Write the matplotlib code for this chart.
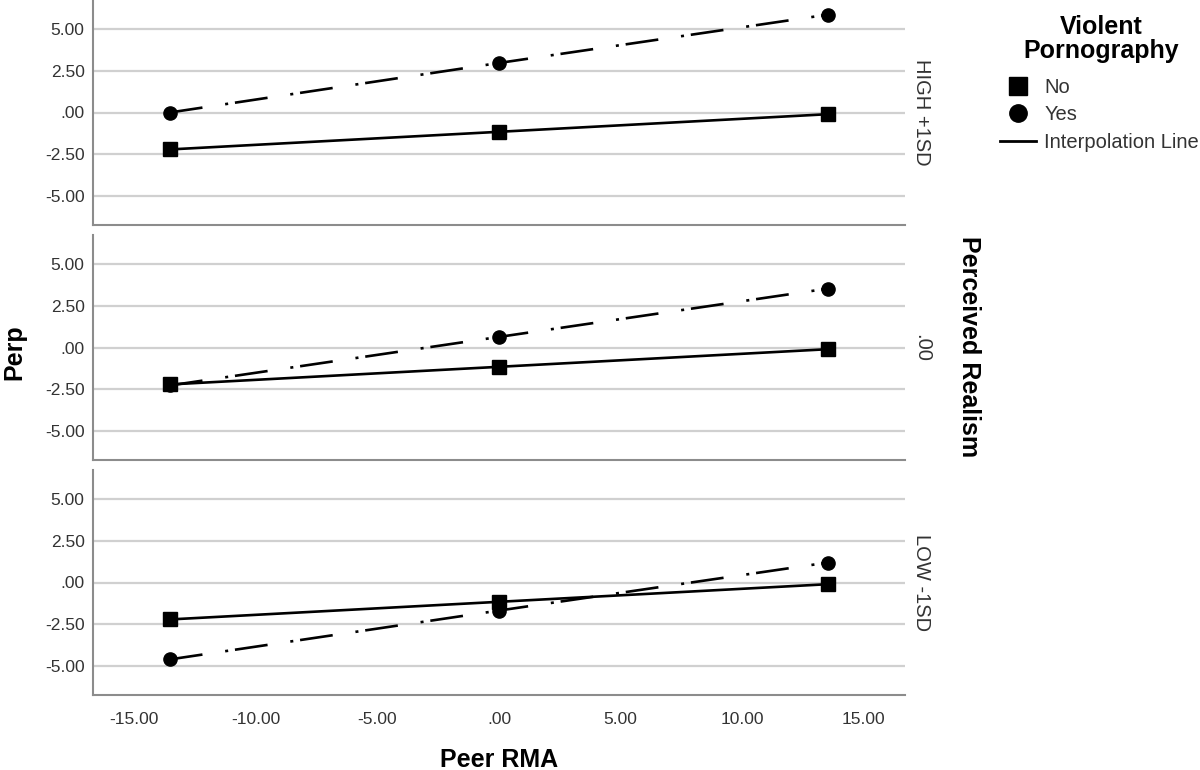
import matplotlib
matplotlib.use("Agg")
import matplotlib.pyplot as plt
from matplotlib.lines import Line2D

plt.rcParams['font.family'] = ['Liberation Sans', 'DejaVu Sans']

# ---- data ----
peer_rma = [-13.54, 0.0, 13.54]
panel_labels = ["HIGH +1SD", ".00", "LOW -1SD"]
perp_no = [
    [-2.20, -1.15, -0.10],
    [-2.20, -1.15, -0.10],
    [-2.20, -1.15, -0.10],
]
perp_yes = [
    [0.00, 2.95, 5.83],
    [-2.26, 0.63, 3.51],
    [-4.58, -1.67, 1.19],
]
x_ticks = [-15, -10, -5, 0, 5, 10, 15]
x_ticklabels = ["-15.00", "-10.00", "-5.00", ".00", "5.00", "10.00", "15.00"]
y_ticks = [5, 2.5, 0, -2.5, -5]
y_ticklabels = ["5.00", "2.50", ".00", "-2.50", "-5.00"]
legend_title = "Violent\nPornography"
legend_labels = ["No", "Yes", "Interpolation Line"]

W, H = 1200, 770
fig = plt.figure(figsize=(W / 100, H / 100), dpi=100)

grid_c = "#d0d0d0"
spine_c = "#8c8c8c"
text_c = "#333333"
dashdot = (0, (12.5, 8.7, 1.15, 2.6))
lw = 1.9

panel_px = [(0, 225), (235, 460), (470, 695)]
left_px, right_px = 93, 905

for i, (t, b) in enumerate(panel_px):
    ax = fig.add_axes([left_px / W, 1 - b / H, (right_px - left_px) / W, (b - t) / H])
    ax.set_xlim(-16.7, 16.7)
    ax.set_ylim(-6.7, 6.7)
    ax.set_yticks(y_ticks)
    ax.set_yticklabels(y_ticklabels)
    ax.set_xticks(x_ticks)
    if i == 2:
        ax.set_xticklabels(x_ticklabels)
    else:
        ax.set_xticklabels([])
    ax.tick_params(axis='both', length=0, labelsize=12.5, colors=text_c)
    ax.tick_params(axis='y', pad=6)
    ax.tick_params(axis='x', pad=12)
    for yv in y_ticks:
        ax.axhline(yv, color=grid_c, lw=1.6, zorder=0)
    for s in ['top', 'right']:
        ax.spines[s].set_visible(False)
    for s in ['left', 'bottom']:
        ax.spines[s].set_color(spine_c)
        ax.spines[s].set_linewidth(1.5)

    ax.plot(peer_rma, perp_no[i], color='black', lw=lw, ls='-',
            marker='s', markersize=9.5, zorder=3)
    ax.plot(peer_rma, perp_yes[i], color='black', lw=lw, ls=dashdot,
            marker='o', markersize=9.5, zorder=3)

    yc = 1 - ((t + b) / 2) / H
    fig.text(922 / W, yc, panel_labels[i], rotation=-90, ha='center', va='center',
             fontsize=14.5, color=text_c)

fig.text(969 / W, 1 - 347 / H, "Perceived Realism", rotation=-90, ha='center',
         va='center', fontsize=18, fontweight='bold', color='black')
fig.text(14 / W, 1 - 352 / H, "Perp", rotation=90, ha='center', va='center',
         fontsize=18, fontweight='bold', color='black')
fig.text(499 / W, 1 - 760 / H, "Peer RMA", ha='center', va='center',
         fontsize=18, fontweight='bold', color='black')

fig.text(1101 / W, 1 - 15 / H, legend_title, ha='center', va='top',
         multialignment='center', fontsize=18, fontweight='bold',
         color='black', linespacing=1.0)

handles = [
    Line2D([], [], color='black', marker='s', ls='none', markersize=12.5),
    Line2D([], [], color='black', marker='o', ls='none', markersize=12.5),
    Line2D([], [], color='black', lw=2, ls='-'),
]
leg = fig.legend(handles, legend_labels, loc='upper left',
                 bbox_to_anchor=(1000 / W, 1 - 78 / H), frameon=False,
                 fontsize=14.5, handlelength=1.8, handletextpad=0.4,
                 labelspacing=0.42, borderaxespad=0, borderpad=0)
for txt in leg.get_texts():
    txt.set_color(text_c)

fig.savefig("out.png", dpi=100)
